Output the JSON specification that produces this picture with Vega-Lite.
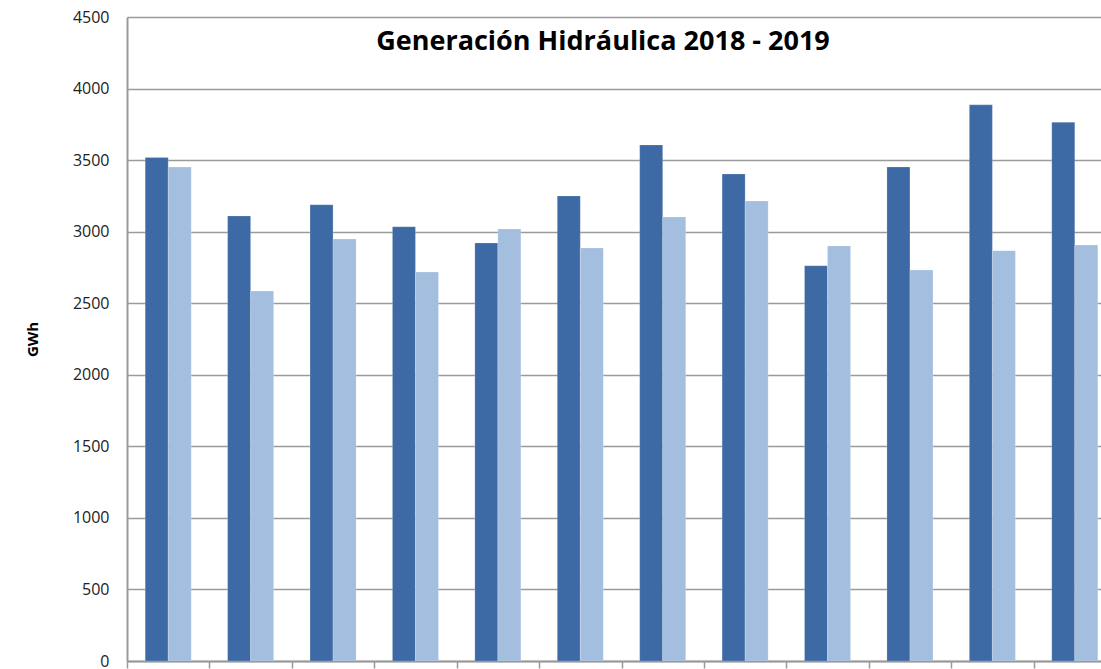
{
  "$schema": "https://vega.github.io/schema/vega-lite/v6.json",
  "autosize": {"type": "none"},
  "padding": {"left": 127, "top": 17, "right": 0, "bottom": 8},
  "width": 974,
  "height": 644,
  "background": "white",
  "title": {
    "text": "Generación Hidráulica 2018 - 2019",
    "font": "Open Sans",
    "fontSize": 27,
    "fontWeight": "bold",
    "color": "#000000",
    "anchor": "middle",
    "frame": "group",
    "baseline": "alphabetic",
    "offset": 0,
    "dy": 68,
    "dx": -11
  },
  "data": {
    "values": [
      {"mes": "Enero", "serie": "2018", "gwh": 3518},
      {"mes": "Enero", "serie": "2019", "gwh": 3452},
      {"mes": "Febrero", "serie": "2018", "gwh": 3110},
      {"mes": "Febrero", "serie": "2019", "gwh": 2585},
      {"mes": "Marzo", "serie": "2018", "gwh": 3188},
      {"mes": "Marzo", "serie": "2019", "gwh": 2949},
      {"mes": "Abril", "serie": "2018", "gwh": 3035},
      {"mes": "Abril", "serie": "2019", "gwh": 2718},
      {"mes": "Mayo", "serie": "2018", "gwh": 2921},
      {"mes": "Mayo", "serie": "2019", "gwh": 3019},
      {"mes": "Junio", "serie": "2018", "gwh": 3250},
      {"mes": "Junio", "serie": "2019", "gwh": 2886},
      {"mes": "Julio", "serie": "2018", "gwh": 3606},
      {"mes": "Julio", "serie": "2019", "gwh": 3103},
      {"mes": "Agosto", "serie": "2018", "gwh": 3403},
      {"mes": "Agosto", "serie": "2019", "gwh": 3215},
      {"mes": "Septiembre", "serie": "2018", "gwh": 2762},
      {"mes": "Septiembre", "serie": "2019", "gwh": 2900},
      {"mes": "Octubre", "serie": "2018", "gwh": 3452},
      {"mes": "Octubre", "serie": "2019", "gwh": 2732},
      {"mes": "Noviembre", "serie": "2018", "gwh": 3886},
      {"mes": "Noviembre", "serie": "2019", "gwh": 2867},
      {"mes": "Diciembre", "serie": "2018", "gwh": 3765},
      {"mes": "Diciembre", "serie": "2019", "gwh": 2907}
    ]
  },
  "mark": {"type": "bar", "clip": true, "stroke": "#ffffff", "strokeOpacity": 0.25, "strokeWidth": 0.8},
  "encoding": {
    "x": {
      "field": "mes",
      "type": "nominal",
      "sort": null,
      "scale": {"range": [0, 989], "paddingInner": 0, "paddingOuter": 0},
      "axis": {
        "title": null,
        "labels": false,
        "tickBand": "extent",
        "tickSize": 7,
        "tickColor": "#9a9a9a",
        "tickWidth": 1.5,
        "domainColor": "#9a9a9a",
        "domainWidth": 2,
        "grid": false
      }
    },
    "xOffset": {
      "field": "serie",
      "type": "nominal",
      "scale": {"paddingInner": 0, "paddingOuter": 0.79}
    },
    "y": {
      "field": "gwh",
      "type": "quantitative",
      "scale": {"domain": [0, 4500], "nice": false},
      "axis": {
        "values": [0, 500, 1000, 1500, 2000, 2500, 3000, 3500, 4000, 4500],
        "format": "d",
        "title": "GWh",
        "titleFont": "Open Sans",
        "titleFontSize": 15,
        "titleFontWeight": "bold",
        "titleColor": "#000000",
        "titlePadding": 32,
        "labelFont": "Open Sans",
        "labelFontSize": 16,
        "labelColor": "#222222",
        "labelPadding": 18,
        "ticks": false,
        "domainColor": "#9a9a9a",
        "domainWidth": 2,
        "gridColor": "#9a9a9a",
        "gridWidth": 1.5,
        "gridOpacity": 1
      }
    },
    "color": {
      "field": "serie",
      "type": "nominal",
      "scale": {"domain": ["2018", "2019"], "range": ["#3d6aa4", "#a4bedf"]},
      "legend": null
    }
  },
  "config": {"view": {"stroke": null}}
}
